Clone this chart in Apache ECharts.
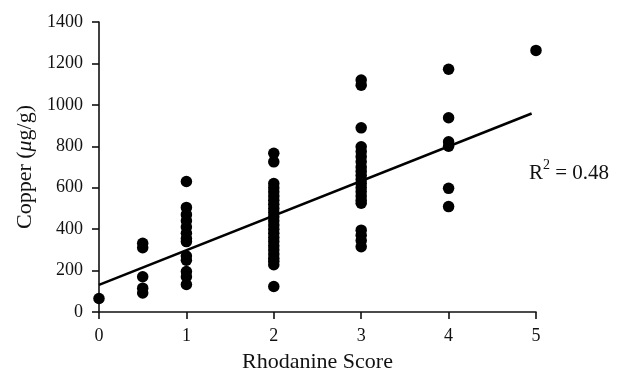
<!DOCTYPE html>
<html>
<head>
<meta charset="utf-8">
<script src="https://cdn.jsdelivr.net/npm/echarts@6/dist/echarts.min.js"></script>
<style>
  html, body { margin: 0; padding: 0; background: #fff; }
  #chart { width: 629px; height: 382px; }
</style>
</head>
<body>
<div id="chart"></div>
<script>
// rhodanine score vs copper
var score0 = [65];
var score05 = [332, 310, 170, 115, 92];
var score1 = [630, 505, 470, 440, 410, 380, 355, 340, 270, 250, 195, 170, 133];
var score2 = [766, 725, 620, 600, 580, 560, 540, 520, 500, 480, 460, 440, 420, 400, 380,
              360, 340, 320, 300, 280, 260, 245, 228, 123];
var score3 = [1120, 1095, 889, 798, 775, 750, 725, 700, 680, 660, 640, 620, 600, 580, 560,
              540, 525, 395, 370, 345, 315];
var score4 = [1172, 938, 822, 800, 597, 509];
var score5 = [1263];
var trendX = [0, 4.95];
var trendY = [131, 958];
var xTicks = [0, 1, 2, 3, 4, 5];
var yTicks = [0, 200, 400, 600, 800, 1000, 1200, 1400];

var groups = [[0, score0], [0.5, score05], [1, score1], [2, score2], [3, score3], [4, score4], [5, score5]];
var points = [];
groups.forEach(function (g) {
    g[1].forEach(function (v) { points.push([g[0], v]); });
});

var serif = '"Liberation Serif", "DejaVu Serif", serif';
var chart = echarts.init(document.getElementById('chart'));
var option = {
    animation: false,
    grid: { left: 99, right: 93, top: 22, bottom: 70 },
    xAxis: {
        type: 'value',
        min: xTicks[0],
        max: xTicks[xTicks.length - 1],
        interval: 1,
        name: 'Rhodanine Score',
        nameLocation: 'middle',
        nameGap: 39,
        nameTextStyle: { fontFamily: serif, fontSize: 22, color: '#111' },
        axisLine: { lineStyle: { color: '#111', width: 1.6 } },
        axisTick: { length: 7, lineStyle: { color: '#111', width: 1.6 } },
        axisLabel: { fontFamily: serif, fontSize: 18, color: '#111', margin: 15 },
        splitLine: { show: false }
    },
    yAxis: {
        type: 'value',
        min: yTicks[0],
        max: yTicks[yTicks.length - 1],
        interval: 200,
        name: '{a|Copper (}{i|μ}{a|g/g)}',
        nameLocation: 'middle',
        nameGap: 62,
        nameTextStyle: {
            rich: {
                a: { fontFamily: serif, fontSize: 22, color: '#111' },
                i: { fontFamily: serif, fontSize: 22, color: '#111', fontStyle: 'italic' }
            }
        },
        axisLine: { show: true, lineStyle: { color: '#111', width: 1.6 } },
        axisTick: { show: true, length: 7, lineStyle: { color: '#111', width: 1.6 } },
        axisLabel: {
            fontFamily: serif, fontSize: 18, color: '#111', margin: 16,
            formatter: function (v) { return String(v); }
        },
        splitLine: { show: false }
    },
    graphic: [{
        type: 'text',
        left: 529,
        top: 158,
        style: {
            text: '{a|R}{s|2}{a| = 0.48}',
            rich: {
                a: { fontFamily: serif, fontSize: 21, fill: '#111', verticalAlign: 'bottom', lineHeight: 26 },
                s: { fontFamily: serif, fontSize: 14, fill: '#111', verticalAlign: 'top', lineHeight: 26 }
            }
        }
    }],
    series: [
        {
            type: 'scatter',
            data: points,
            symbolSize: 11.5,
            itemStyle: { color: '#000', opacity: 1 }
        },
        {
            type: 'line',
            data: trendX.map(function (x, i) { return [x, trendY[i]]; }),
            symbol: 'none',
            lineStyle: { color: '#000', width: 2.6 },
            z: 1
        }
    ]
};
chart.setOption(option);
</script>
</body>
</html>
